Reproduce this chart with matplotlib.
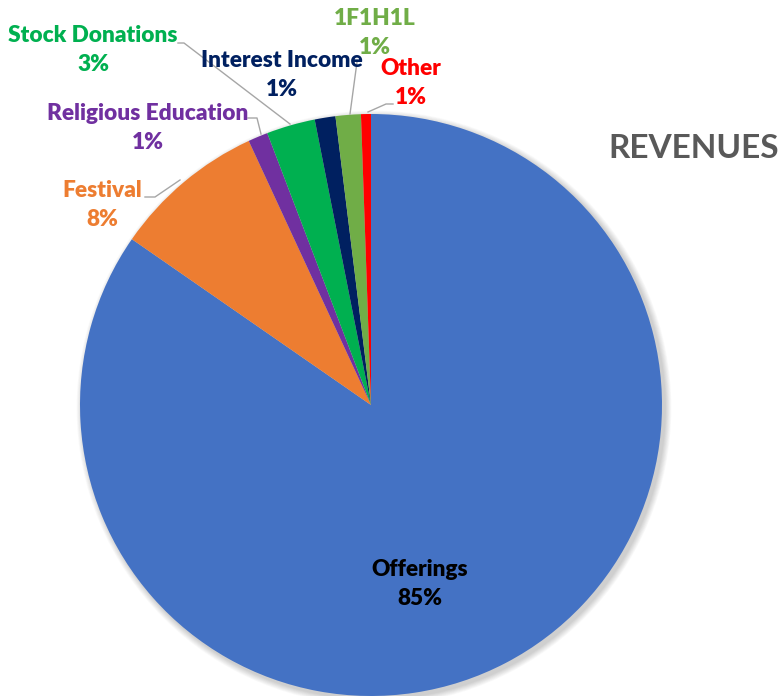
import matplotlib
matplotlib.use("Agg")
import matplotlib.pyplot as plt
from matplotlib.patches import Circle

categories = ["Offerings", "Festival", "Religious Education", "Stock Donations",
              "Interest Income", "1F1H1L", "Other"]
values = [84.65, 8.45, 1.1, 2.7, 1.15, 1.4, 0.55]
colors = ["#4472C4", "#ED7D31", "#7030A0", "#00B050", "#002060", "#70AD47", "#FF0000"]
label_colors = ["#000000", "#ED7D31", "#7030A0", "#00B050", "#002060", "#70AD47", "#FF0000"]
title = "REVENUES"

W, H = 781, 696
fig = plt.figure(figsize=(W / 100, H / 100), dpi=100)
ax = fig.add_axes([0, 0, 1, 1])
ax.set_xlim(0, W)
ax.set_ylim(0, H)
ax.set_aspect("equal")
ax.axis("off")

cx, cy, r = 371, H - 405, 291

# soft shadow
for k in range(8, 0, -1):
    ax.add_patch(Circle((cx + 3, cy - 3), r + k * 0.8, color="#000000",
                        alpha=0.025, lw=0, zorder=1))

ax.pie(values, colors=colors, startangle=90, counterclock=False,
       center=(cx, cy), radius=r, frame=True,
       wedgeprops=dict(linewidth=0, zorder=2))
ax.set_xlim(0, W)
ax.set_ylim(0, H)
ax.axis("off")

font = dict(family=["Lato", "DejaVu Sans"], fontweight="heavy", fontsize=16.3)

# label positions (pixel coords, y from top)
label_pos = {
    "Offerings": (420, 584),
    "Festival": (102, 205),
    "Religious Education": (148, 128),
    "Stock Donations": (93, 50),
    "Interest Income": (282, 75),
    "1F1H1L": (375, 33),
    "Other": (411, 83),
}
for cat, val, lc in zip(categories, values, label_colors):
    x, y = label_pos[cat]
    pct = int(val + 0.5)
    ax.text(x, H - y, f"{cat}\n{pct}%", ha="center", va="center",
            color=lc, linespacing=1.5, zorder=5, **font)

# leader lines (pixel coords, y from top)
leaders = [
    [(145, 197), (155, 197), (180, 180)],
    [(248, 118), (257, 118), (261, 134)],
    [(178, 43), (184, 43), (290, 124)],
    [(357, 62), (350, 114)],
    [(393, 104), (386, 104), (368, 112)],
]
for pts in leaders:
    xs = [p[0] for p in pts]
    ys = [H - p[1] for p in pts]
    ax.plot(xs, ys, color="#A6A6A6", lw=1.0, zorder=4)

ax.text(694, H - 148, title, ha="center", va="center", color="#595959",
        family=["Lato", "DejaVu Sans"], fontweight="bold", fontsize=24)

fig.savefig("out.png", dpi=100)
